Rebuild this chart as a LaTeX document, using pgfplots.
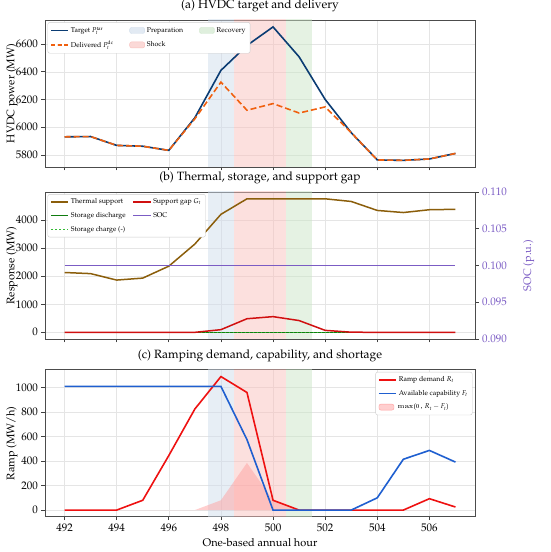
\documentclass[border=0pt]{standalone}
\usepackage[T1]{fontenc}
\usepackage{mathpazo}
\usepackage{pgfplots}
\pgfplotsset{compat=1.18}
\usepackage{pgfplotstable}

\definecolor{navy}{HTML}{0B3C73}
\definecolor{deliv}{HTML}{F0600F}
\definecolor{therm}{HTML}{8B5E0B}
\definecolor{gapred}{HTML}{D01010}
\definecolor{disg}{HTML}{107C10}
\definecolor{chgg}{HTML}{33BB33}
\definecolor{socp}{HTML}{7B5CC4}
\definecolor{rampr}{HTML}{EE1111}
\definecolor{capb}{HTML}{1F5FD0}
\definecolor{prepc}{HTML}{D0DDEB}
\definecolor{shockc}{HTML}{F9C1BD}
\definecolor{recc}{HTML}{CBE5C7}
\definecolor{shortc}{HTML}{FFA0A0}

\pgfplotstableread{
h    tar   del   th    dis chg gap soc   ramp cap  sh
492  5930  5930  2135  0   0   0   0.100 0    1010 0
493  5932  5932  2095  0   0   0   0.100 0    1010 0
494  5868  5868  1865  0   0   0   0.100 0    1010 0
495  5862  5862  1935  0   0   0   0.100 80   1010 0
496  5832  5832  2360  0   0   0   0.100 445  1010 0
497  6068  6060  3150  0   0   0   0.100 825  1010 0
498  6410  6325  4210  0   0   95  0.100 1090 1010 80
499  6590  6122  4765  0   0   485 0.100 960  575  385
500  6724  6170  4765  0   0   560 0.100 80   0    80
501  6508  6102  4765  0   0   420 0.100 0    0    0
502  6200  6146  4765  0   0   70  0.100 0    0    0
503  5960  5960  4670  0   0   5   0.100 0    0    0
504  5763  5763  4350  0   0   0   0.100 0    100  0
505  5760  5760  4275  0   0   0   0.100 0    415  0
506  5770  5770  4375  0   0   0   0.100 93   487  0
507  5810  5810  4390  0   0   0   0.100 25   392  0
}\data

\pgfplotsset{
  panel/.style={
    scale only axis, width=430pt, height=147pt,
    anchor=south west,
    xmin=491.25, xmax=507.75, xtick={492,494,...,506},
    grid=major, grid style={color=black!10, line width=0.5pt},
    tick align=outside, major tick length=3.5pt, tick pos=left,
    tick style={color=black!75, line width=0.6pt},
    axis line style={color=black!70, line width=0.8pt},
    ticklabel style={font=\fontsize{11}{13}\selectfont},
    label style={font=\fontsize{11}{13}\selectfont},
    ylabel style={at={(axis description cs:-0.077,0.5)}, anchor=center},
    title style={font=\fontsize{12}{14}\selectfont, at={(0.5,1)}, anchor=south, inner sep=2pt},
    /pgf/number format/1000 sep={}, scaled ticks=false,
    legend cell align=left,
    legend style={font=\fontsize{7}{8.5}\selectfont, draw=black!20, rounded corners=2pt,
      fill=white, inner sep=2.5pt, row sep=3pt},
  },
  band/.style={draw=none, fill opacity=0.5, forget plot},
  patch/.style={legend image code/.code={\fill[#1] (0pt,-3pt) rectangle (15pt,3pt);}},
}

\begin{document}
\begin{tikzpicture}
\useasboundingbox (0,0) rectangle (550pt,552pt);

% ---------------- (a)
\begin{axis}[panel, at={(45pt,385pt)},
  ymin=5712, ymax=6774, ytick={5800,6000,...,6600},
  xticklabels={},
  ylabel={HVDC power (MW)},
  title={(a) HVDC target and delivery},
  legend columns=3,
  legend style={at={(0.006,0.985)}, anchor=north west,
    /tikz/every even column/.append style={column sep=14pt}},
]
\addplot[band, fill=prepc] coordinates {(497.5,5000)(498.5,5000)(498.5,7000)(497.5,7000)};
\addplot[band, fill=shockc] coordinates {(498.5,5000)(500.5,5000)(500.5,7000)(498.5,7000)};
\addplot[band, fill=recc] coordinates {(500.5,5000)(501.5,5000)(501.5,7000)(500.5,7000)};
\addplot[color=navy, line width=1.6pt, forget plot] table[x=h, y=tar]{\data};
\addplot[color=deliv, line width=1.6pt, dash pattern=on 6pt off 3pt, forget plot] table[x=h, y=del]{\data};
\addlegendimage{color=navy, line width=1.6pt}
\addlegendentry{Target $P_t^{\mathrm{tar}}$}
\addlegendimage{patch={prepc, fill opacity=0.6}}
\addlegendentry{Preparation}
\addlegendimage{patch={recc, fill opacity=0.6}}
\addlegendentry{Recovery}
\addlegendimage{color=deliv, line width=1.6pt, dash pattern=on 4pt off 2.5pt}
\addlegendentry{Delivered $P_t^{\mathrm{dc}}$}
\addlegendimage{patch={shockc, fill opacity=0.6}}
\addlegendentry{Shock}
\end{axis}

% ---------------- (b)
\begin{axis}[panel, at={(45pt,213pt)},
  ymin=-238, ymax=5008, ytick={0,1000,...,4000},
  xticklabels={},
  ylabel={Response (MW)},
  title={(b) Thermal, storage, and support gap},
  legend columns=2,
  legend style={at={(0.006,0.985)}, anchor=north west,
    /tikz/every even column/.append style={column sep=5pt}},
]
\addplot[band, fill=prepc] coordinates {(497.5,-1000)(498.5,-1000)(498.5,6000)(497.5,6000)};
\addplot[band, fill=shockc] coordinates {(498.5,-1000)(500.5,-1000)(500.5,6000)(498.5,6000)};
\addplot[band, fill=recc] coordinates {(500.5,-1000)(501.5,-1000)(501.5,6000)(500.5,6000)};
\addplot[color=therm, line width=1.5pt, forget plot] table[x=h, y=th]{\data};
\addplot[color=disg, line width=1.5pt, forget plot] table[x=h, y=dis]{\data};
\addplot[color=chgg, line width=1.5pt, dash pattern=on 1.5pt off 2.5pt, forget plot] table[x=h, y=chg]{\data};
\addplot[color=gapred, line width=1.5pt, forget plot] table[x=h, y=gap]{\data};
\addlegendimage{color=therm, line width=1.5pt}
\addlegendentry{Thermal support}
\addlegendimage{color=gapred, line width=1.5pt}
\addlegendentry{Support gap $G_t$}
\addlegendimage{color=disg, line width=1.5pt}
\addlegendentry{Storage discharge}
\addlegendimage{color=socp, line width=1.5pt}
\addlegendentry{SOC}
\addlegendimage{color=chgg, line width=1.5pt, dash pattern=on 1.5pt off 2.5pt}
\addlegendentry{Storage charge (-)}
\end{axis}
\begin{axis}[panel, at={(45pt,213pt)},
  grid=none, axis x line=none, axis y line*=right, tick pos=right,
  ymin=0.09, ymax=0.11, ytick={0.090,0.095,...,0.1101},
  yticklabel style={color=socp, /pgf/number format/.cd, fixed, fixed zerofill, precision=3},
  ylabel={SOC (p.u.)}, ylabel style={at={(axis description cs:1.125,0.5)}, anchor=center, color=socp},
]
\addplot[color=socp, line width=1.5pt, mark=none] table[x=h, y=soc]{\data};
\end{axis}

% ---------------- (c)
\begin{axis}[panel, at={(45pt,35.3pt)},
  ymin=-54, ymax=1146, ytick={0,200,...,1000},
  ylabel={Ramp (MW/h)},
  xlabel={One-based annual hour},
  title={(c) Ramping demand, capability, and shortage},
  legend style={at={(0.994,0.985)}, anchor=north east},
]
\addplot[band, fill=prepc] coordinates {(497.5,-500)(498.5,-500)(498.5,2000)(497.5,2000)};
\addplot[band, fill=shockc] coordinates {(498.5,-500)(500.5,-500)(500.5,2000)(498.5,2000)};
\addplot[band, fill=recc] coordinates {(500.5,-500)(501.5,-500)(501.5,2000)(500.5,2000)};
\addplot[draw=none, fill=shortc, fill opacity=0.5, forget plot] table[x=h, y=sh]{\data};
\addplot[color=rampr, line width=1.6pt, forget plot] table[x=h, y=ramp]{\data};
\addplot[color=capb, line width=1.6pt, forget plot] table[x=h, y=cap]{\data};
\addlegendimage{color=rampr, line width=1.6pt}
\addlegendentry{Ramp demand $R_t$}
\addlegendimage{color=capb, line width=1.6pt}
\addlegendentry{Available capability $F_t$}
\addlegendimage{patch={shortc, fill opacity=0.5}}
\addlegendentry{\textsf{max(0,} $R_t - F_t$\textsf{)}}
\end{axis}
\end{tikzpicture}
\end{document}
